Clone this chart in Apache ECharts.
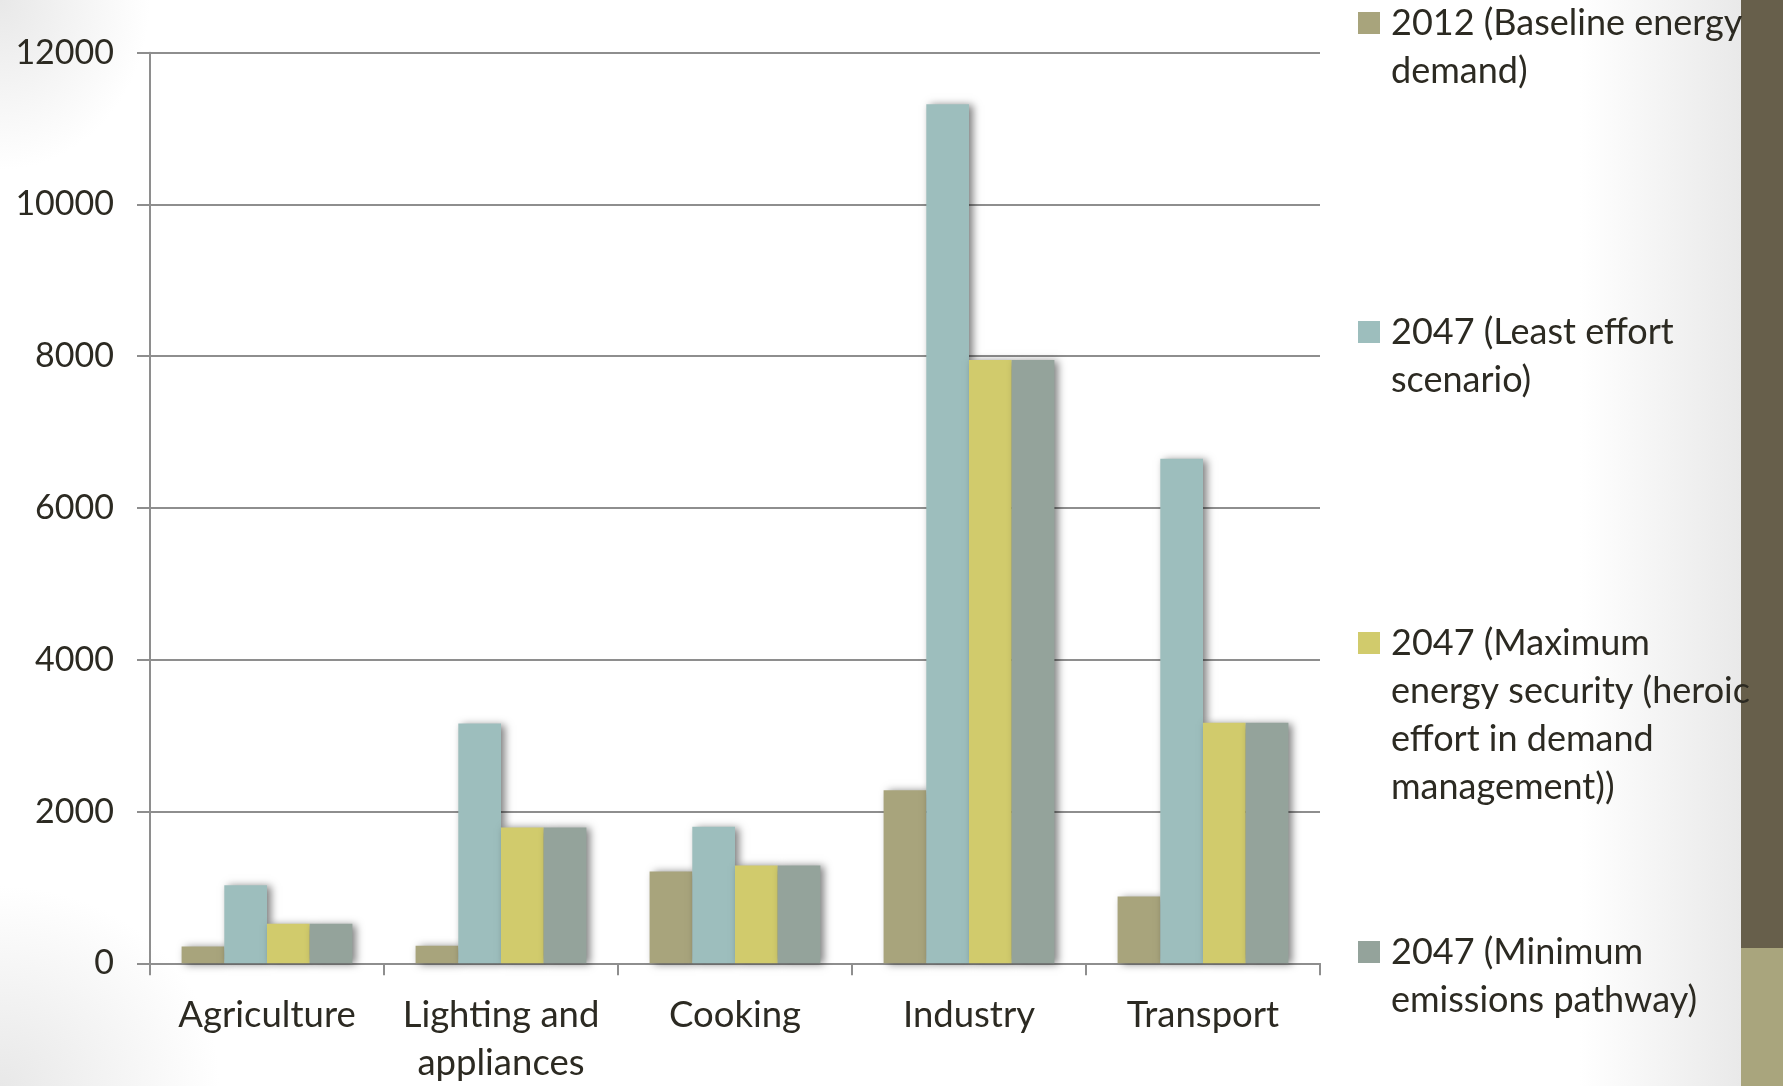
<!DOCTYPE html>
<html>
<head>
<meta charset="utf-8">
<title>Energy demand by sector</title>
<script src="https://cdn.jsdelivr.net/npm/echarts@6/dist/echarts.min.js"></script>
<style>
  html, body { margin: 0; padding: 0; }
  body {
    width: 1783px; height: 1086px; overflow: hidden;
    background:
      radial-gradient(ellipse 150px 170px at 0 0, #e8e8e8 0%, rgba(255,255,255,0) 100%),
      radial-gradient(ellipse 220px 200px at 0 100%, #e8e8e8 0%, rgba(255,255,255,0) 100%),
      linear-gradient(to right, rgba(255,255,255,0) 1580px, #e9e9e9 1741px),
      #ffffff;
  }
  #chart { width: 1783px; height: 1086px; }
</style>
</head>
<body>
<div id="chart"></div>
<script>
// Sectors on the category axis
const categories = ['Agriculture', 'Lighting and\nappliances', 'Cooking', 'Industry', 'Transport'];

// Scenario names and their wrapped legend text
const scenarioNames = [
  '2012 (Baseline energy demand)',
  '2047 (Least effort scenario)',
  '2047 (Maximum energy security (heroic effort in demand management))',
  '2047 (Minimum emissions pathway)'
];
const scenarioLegendText = [
  '2012 (Baseline energy\ndemand)',
  '2047 (Least effort\nscenario)',
  '2047 (Maximum\nenergy security (heroic\neffort in demand\nmanagement))',
  '2047 (Minimum\nemissions pathway)'
];

// Energy demand per sector
const baseline2012 = [220, 230, 1210, 2280, 880];
const leastEffort2047 = [1030, 3160, 1800, 11320, 6650];
const maxSecurity2047 = [520, 1790, 1290, 7950, 3170];
const minEmissions2047 = [520, 1790, 1290, 7950, 3170];

// Value axis ticks
const yMin = 0;
const yMax = 12000;
const yStep = 2000;

const seriesValues = [baseline2012, leastEffort2047, maxSecurity2047, minEmissions2047];
const seriesColors = ['#a8a47c', '#9dbebd', '#d1cb6c', '#94a39b'];
const textColor = '#2c2a22';
const lineColor = '#8e8e8e';
const fontFamily = 'Lato, "Noto Sans", sans-serif';

const chart = echarts.init(document.getElementById('chart'), null, { renderer: 'canvas' });

const series = seriesValues.map((vals, i) => ({
  name: scenarioNames[i],
  type: 'bar',
  data: vals,
  barGap: '0%',
  barCategoryGap: '27%',
  itemStyle: {
    color: seriesColors[i],
    shadowColor: 'rgba(0,0,0,0.5)',
    shadowBlur: 8,
    shadowOffsetX: 4,
    shadowOffsetY: 1
  },
  emphasis: { disabled: true }
}));

// One legend block per scenario; blank lines above the text keep the
// icon level with the first line of a wrapped label
const legendCenters = [23, 332, 643, 952];
const legendLineHeight = 48;
const legends = scenarioNames.map((name, i) => {
  const lines = scenarioLegendText[i].split('\n').length;
  const label = '\n'.repeat(lines - 1) + scenarioLegendText[i];
  return {
    data: [{ name: name, icon: 'rect' }],
    left: 1358,
    top: legendCenters[i] - (2 * lines - 1) * legendLineHeight / 2,
    padding: 0,
    itemWidth: 22,
    itemHeight: 22,
    selectedMode: false,
    formatter: () => label,
    textStyle: {
      color: textColor,
      fontFamily: fontFamily,
      fontSize: 36,
      lineHeight: legendLineHeight,
      padding: [0, 0, 0, 6]
    }
  };
});

chart.setOption({
  animation: false,
  backgroundColor: 'transparent',
  color: seriesColors,
  grid: {
    left: 150, right: 463, top: 52.7, bottom: 122.7,
    containLabel: false,
    outerBoundsMode: 'none'
  },
  legend: legends,
  graphic: [
    { type: 'rect', left: 1741, top: 0, z: -10, shape: { width: 42, height: 948 }, style: { fill: '#675f4b' } },
    { type: 'rect', left: 1741, top: 948, z: -10, shape: { width: 42, height: 138 }, style: { fill: '#a9a57d' } }
  ],
  xAxis: {
    type: 'category',
    data: categories,
    axisLine: { show: true, lineStyle: { color: lineColor, width: 2 } },
    axisTick: { show: true, length: 12, lineStyle: { color: lineColor, width: 2 } },
    axisLabel: {
      color: textColor,
      fontFamily: fontFamily,
      fontSize: 36.5,
      lineHeight: 48,
      margin: 28,
      interval: 0
    },
    splitLine: { show: false }
  },
  yAxis: {
    type: 'value',
    min: yMin,
    max: yMax,
    interval: yStep,
    axisLine: { show: true, lineStyle: { color: lineColor, width: 2 } },
    axisTick: { show: true, length: 13, lineStyle: { color: lineColor, width: 2 } },
    axisLabel: {
      color: textColor,
      fontFamily: fontFamily,
      fontSize: 34,
      margin: 36,
      formatter: (v) => String(v)
    },
    splitLine: { show: true, lineStyle: { color: lineColor, width: 2 } }
  },
  series: series
});
</script>
</body>
</html>
